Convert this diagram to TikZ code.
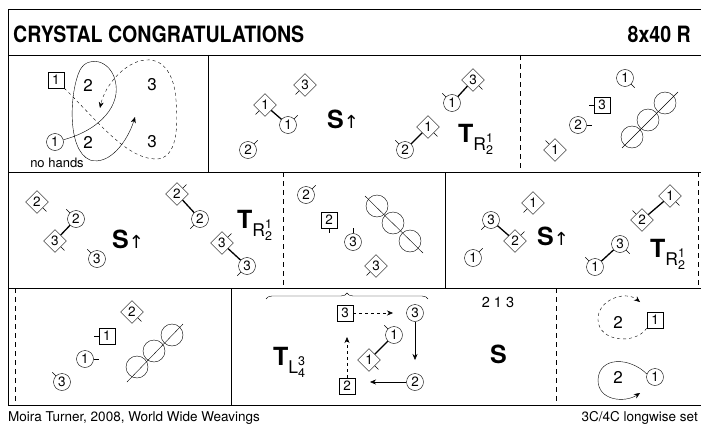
\documentclass[tikz,border=0pt]{standalone}
\usepackage{fontspec}
\usepackage{amsmath}
\setmainfont{TeX Gyre Heros}
\newfontfamily\titlefont[FakeStretch=0.87]{TeX Gyre Heros}
\newfontfamily\arrowfont{DejaVu Sans}
\usetikzlibrary{arrows.meta,shapes.geometric,decorations.pathreplacing}

\tikzset{
  frame/.style={line width=0.9pt},
  bar/.style={line width=0.9pt, dash pattern=on 5pt off 4pt},
  lady/.style={draw, circle, minimum size=17pt, inner sep=0pt, font=\fontsize{13.5}{13.5}\selectfont},
  man/.style={draw, rectangle, minimum size=16pt, inner sep=0pt, font=\fontsize{13.5}{13.5}\selectfont},
  mandiag/.style={draw, diamond, minimum size=23pt, inner sep=0pt, font=\fontsize{13.5}{13.5}\selectfont},
  hands/.style={line width=1.3pt},
  move/.style={-{Stealth[length=6pt,width=5pt]}},
  place/.style={font=\fontsize{17}{17}\selectfont},
  fig/.style={font=\bfseries\fontsize{25}{25}\selectfont, anchor=base west, inner sep=0pt},
  turnlabel/.style={font=\fontsize{25}{25}\selectfont, anchor=base west, inner sep=0pt},
}
\newcommand{\facing}[2]{\draw (#1.#2) -- ++(#2:5pt);}
\newcommand{\turnsym}[3]{$\textbf{T}_{\textmd{#1}^{\textmd{#2}}_{\textmd{#3}}}$}
\newcommand{\setup}{S{\arrowfont\mdseries\fontsize{18}{18}\selectfont ↑}}

\begin{document}
\begin{tikzpicture}[x=1pt,y=-1pt]
        \useasboundingbox (0,0) rectangle (701,428);

        % frame
        \draw[frame] (701,9) -- (8,9) -- (8,405) -- (701,405);
        \draw[frame] (8,55) -- (701,55);
        \draw[frame] (8,172) -- (701,172);
        \draw[frame] (8,288) -- (701,288);
        \draw[frame] (208,55) -- (208,172);
        \draw[bar] (520,55) -- (520,172);
        \draw[bar] (283,172) -- (283,288);
        \draw[frame] (445,172) -- (445,288);
        \draw[bar] (698,172) -- (698,288);
        \draw[bar] (15,288) -- (15,405);
        \draw[frame] (231,288) -- (231,405);
        \draw[bar] (556,288) -- (556,405);

        \node[anchor=base west, inner sep=0pt, font=\titlefont\bfseries\fontsize{22.5}{22.5}\selectfont] (title) at (13,43) {CRYSTAL CONGRATULATIONS};
        \node[anchor=base east, inner sep=0pt, font=\titlefont\bfseries\fontsize{22.5}{22.5}\selectfont] (form) at (691,43) {8x40 R};

        % bars 1-8
        \node[man] (a1m) at (56,80) {1};
        \node[lady] (a1w) at (55,142) {1};
        \node[place] (a2t) at (88,85) {2};
        \node[place] (a3t) at (152,85) {3};
        \node[place] (a2b) at (88,142) {2};
        \node[place] (a3b) at (152,142) {3};
        \node[font=\fontsize{13}{13}\selectfont] (nohands) at (57,163) {no hands};
        \draw[move] (a1w.15) .. controls (100,130) and (122,105) .. (115,80)
            .. controls (110,60) and (88,55) .. (80,70)
            .. controls (70,90) and (66,150) .. (90,160)
            .. controls (110,166) and (128,140) .. (135,117);
        \draw[move, dashed] (a1m.south east) .. controls (95,118) and (125,158) .. (155,159)
            .. controls (178,160) and (178,125) .. (176,100)
            .. controls (174,70) and (160,58) .. (145,60)
            .. controls (125,62) and (105,85) .. (100,108);

        % bars 9-16
        \node[mandiag] (b1m) at (265,105) {1};
        \node[lady] (b1w) at (288,125) {1};
        \node[mandiag] (b3m) at (305,85) {3};
        \node[lady] (b2w) at (248,150) {2};
        \draw[hands] (b1m) -- (b1w);
        \facing{b1m}{225} \facing{b1w}{45} \facing{b3m}{225} \facing{b2w}{45}
        \node[fig] (bset) at (327,128) {\setup};

        \node[mandiag] (c3m) at (473,80) {3};
        \node[lady] (c1w) at (452,103) {1};
        \node[mandiag] (c1m) at (428,127) {1};
        \node[lady] (c2w) at (405,150) {2};
        \draw[hands] (c3m) -- (c1w);
        \draw[hands] (c1m) -- (c2w);
        \facing{c3m}{315} \facing{c1w}{135} \facing{c1m}{315} \facing{c2w}{135}
        \node[turnlabel] (cturn) at (458,142) {\turnsym{R}{1}{2}};

        \node[lady] (d1w) at (625,78) {1};
        \node[man] (d3m) at (602,105) {3};
        \node[lady] (d2w) at (578,125) {2};
        \node[mandiag] (d1m) at (555,150) {1};
        \facing{d1w}{315} \facing{d3m}{180} \facing{d2w}{0} \facing{d1m}{135}
        \draw (632,137) circle (11pt);
        \draw (648,120) circle (11pt);
        \draw (665,103) circle (11pt);
        \draw (622,148) -- (678,92);

        % bars 17-24
        \node[mandiag] (e2m) at (37,202) {2};
        \node[lady] (e2w) at (76,219) {2};
        \node[mandiag] (e3m) at (55,241) {3};
        \node[lady] (e3w) at (97,259) {3};
        \draw[hands] (e2w) -- (e3m);
        \facing{e2m}{315} \facing{e2w}{135} \facing{e3m}{315} \facing{e3w}{135}
        \node[fig] (eset) at (112,248) {\setup};

        \node[mandiag] (f2m) at (177,194) {2};
        \node[lady] (f2w) at (200,219) {2};
        \node[mandiag] (f3m) at (222,243) {3};
        \node[lady] (f3w) at (247,266) {3};
        \draw[hands] (f2m) -- (f2w);
        \draw[hands] (f3m) -- (f3w);
        \facing{f2m}{45} \facing{f2w}{225} \facing{f3m}{45} \facing{f3w}{225}
        \node[turnlabel] (fturn) at (237,228) {\turnsym{R}{1}{2}};

        \node[lady] (g2w) at (306,195) {2};
        \node[man] (g2m) at (329,220) {2};
        \node[lady] (g3w) at (353,242) {3};
        \node[mandiag] (g3m) at (376,266) {3};
        \facing{g2w}{45} \facing{g2m}{270} \facing{g3w}{90} \facing{g3m}{225}
        \draw (377,206) circle (11pt);
        \draw (393,223) circle (11pt);
        \draw (410,241) circle (11pt);
        \draw (365,196) -- (423,253);

        % bars 25-32
        \node[mandiag] (h1m) at (533,203) {1};
        \node[lady] (h3w) at (491,220) {3};
        \node[mandiag] (h2m) at (515,241) {2};
        \node[lady] (h1w) at (473,258) {1};
        \draw[hands] (h3w) -- (h2m);
        \facing{h1m}{225} \facing{h3w}{225} \facing{h2m}{45} \facing{h1w}{45}
        \node[fig] (hset) at (537,245) {\setup};

        \node[mandiag] (i1m) at (670,196) {1};
        \node[mandiag] (i2m) at (642,220) {2};
        \node[lady] (i3w) at (620,244) {3};
        \node[lady] (i1w) at (595,267) {1};
        \draw[hands] (i1m) -- (i2m);
        \draw[hands] (i3w) -- (i1w);
        \facing{i1m}{315} \facing{i2m}{135} \facing{i3w}{315} \facing{i1w}{135}
        \node[turnlabel] (iturn) at (650,257) {\turnsym{R}{1}{2}};

        \node[mandiag] (j2m) at (132,312) {2};
        \node[man] (j1m) at (107,336) {1};
        \node[lady] (j1w) at (85,359) {1};
        \node[lady] (j3w) at (62,382) {3};
        \facing{j2m}{315} \facing{j1m}{180} \facing{j1w}{0} \facing{j3w}{135}
        \draw (137,367) circle (11pt);
        \draw (154,351) circle (11pt);
        \draw (172,335) circle (11pt);
        \draw (127,382) -- (183,324);

        % bars 33-40
        \coordinate (braceL) at (266,299);
        \coordinate (braceR) at (428,299);
        \draw[decorate, decoration={brace, amplitude=6pt}] (braceL) -- (braceR);
        \node[turnlabel] (kturn) at (273,365) {\turnsym{L}{3}{4}};
        \node[man] (k3m) at (345,313) {3};
        \node[lady] (k3w) at (415,313) {3};
        \node[lady] (k1w) at (394,335) {1};
        \node[mandiag] (k1m) at (369,360) {1};
        \node[man] (k2m) at (347,386) {2};
        \node[lady] (k2w) at (415,382) {2};
        \coordinate (k3mto) at (393,313);
        \coordinate (k3wto) at (415,360);
        \coordinate (k2wto) at (370,382);
        \coordinate (k2mto) at (347,337);
        \draw[hands] (k1w) -- (k1m);
        \facing{k1w}{135} \facing{k1m}{315}
        \draw[move, dashed] (k3m) -- (k3mto);
        \draw[move] (k3w) -- (k3wto);
        \draw[move] (k2w) -- (k2wto);
        \draw[move, dashed] (k2m) -- (k2mto);

        \node[font=\fontsize{14.5}{14.5}\selectfont] (order) at (498,302) {2 1 3};
        \node[fig] (kset) at (490,363) {S};

        \node[place] (l2t) at (618,322) {2};
        \node[man] (l1m) at (655,320) {1};
        \node[place] (l2b) at (618,377) {2};
        \node[lady] (l1w) at (655,377) {1};
        \draw[move, dashed] (l1m.south west) .. controls (635,345) and (599,342) .. (598,320)
            .. controls (597,300) and (625,290) .. (640,302);
        \draw[move] (l1w.160) .. controls (630,357) and (599,356) .. (598,380)
            .. controls (598,401) and (625,403) .. (640,393);

        \node[anchor=base west, inner sep=0pt, font=\fontsize{13.5}{13.5}\selectfont] (author) at (8,421) {Moira Turner, 2008, World Wide Weavings};
        \node[anchor=base east, inner sep=0pt, font=\fontsize{13.5}{13.5}\selectfont] (formation) at (698,421) {3C/4C longwise set};
    \end{tikzpicture}
\end{document}
